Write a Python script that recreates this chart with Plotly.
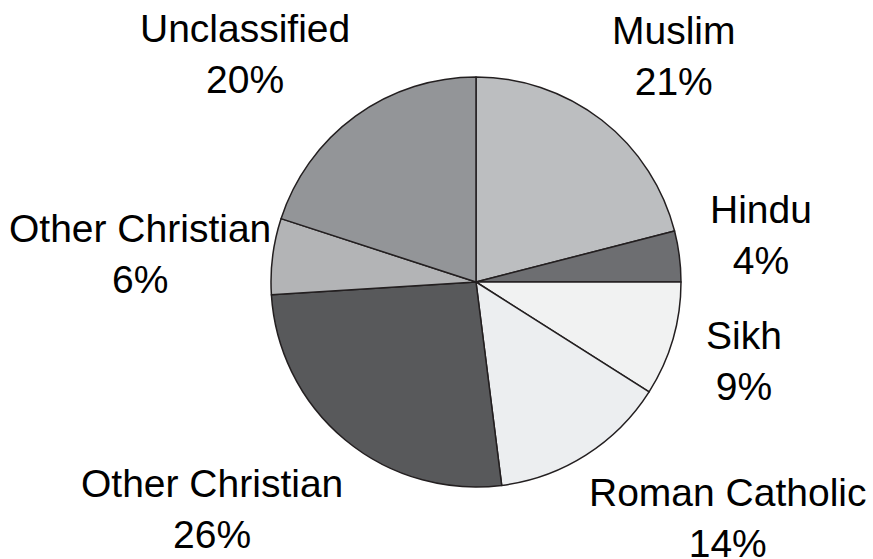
import plotly.graph_objects as go

# Religious affiliation shares, clockwise from 12 o'clock
labels = ["Muslim", "Hindu", "Sikh", "Roman Catholic",
          "Other Christian", "Other Christian", "Unclassified"]
shares = [21, 4, 9, 14, 26, 6, 20]
colors = ["#bcbec0", "#6d6e71", "#f1f2f2", "#eceef0",
          "#58595b", "#b3b4b6", "#939598"]

# Label centres in pixel coordinates of the 873x559 canvas
W, H = 873, 559
label_pos = [(674, 56), (761, 235), (744, 361), (727, 518),
             (212, 509), (140, 254), (245, 54)]

fig = go.Figure(go.Pie(
    values=shares,
    labels=[f"{l} {i}" for i, l in enumerate(labels)],
    sort=False,
    direction="clockwise",
    rotation=0,
    marker=dict(colors=colors, line=dict(color="#231f20", width=1.5)),
    textinfo="none",
    hoverinfo="skip",
    showlegend=False,
    domain=dict(x=[271 / W, 681 / W], y=[(H - 487) / H, (H - 77) / H]),
))

for lab, val, (px, py) in zip(labels, shares, label_pos):
    fig.add_annotation(
        x=px / W, y=1 - py / H, xref="paper", yref="paper",
        text=f"{lab}<br>{val}%", showarrow=False,
        xanchor="center", yanchor="middle", align="center",
        font=dict(family="Liberation Sans, Arial, sans-serif", size=39, color="#000000"),
    )

fig.update_layout(
    width=W, height=H,
    margin=dict(l=0, r=0, t=0, b=0),
    paper_bgcolor="white", plot_bgcolor="white",
)

fig.write_html("out.html")
